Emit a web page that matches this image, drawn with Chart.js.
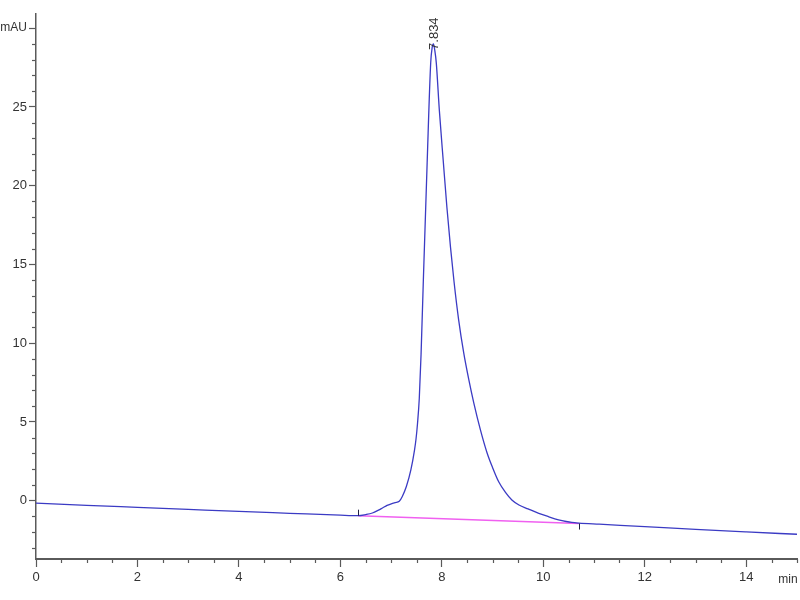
<!DOCTYPE html>
<html>
<head>
<meta charset="utf-8">
<script src="https://cdn.jsdelivr.net/npm/chart.js@4.4.0/dist/chart.umd.min.js"></script>
<style>
  html, body { margin: 0; padding: 0; background: #ffffff; }
  #wrap { width: 800px; height: 600px; position: relative; }
</style>
</head>
<body>
<div id="wrap"><canvas id="c" width="800" height="600"></canvas></div>
<script>
// ---- Data ----
const times = [0, 1, 2, 3, 4, 5, 6, 6.35, 6.5, 6.63, 6.75, 6.83, 6.92, 6.99, 7.08, 7.16, 7.22, 7.30, 7.39, 7.46, 7.49, 7.52, 7.555, 7.59, 7.635, 7.71, 7.78, 7.81, 7.834, 7.86, 7.89, 7.95, 8.03, 8.10, 8.17, 8.24, 8.33, 8.43, 8.53, 8.63, 8.76, 8.89, 9.0, 9.12, 9.25, 9.38, 9.52, 9.7, 9.91, 10.1, 10.3, 10.45, 10.56, 10.7, 11.1, 12, 13, 14, 15];
const signal = [-0.15, -0.29, -0.42, -0.55, -0.68, -0.80, -0.92, -0.95, -0.88, -0.78, -0.60, -0.46, -0.30, -0.21, -0.12, -0.04, 0.27, 0.9, 1.97, 3.2, 3.9, 4.9, 6.5, 9.3, 14.0, 21.46, 27.8, 28.8, 29.0, 28.6, 27.8, 24.8, 21.46, 18.6, 16.1, 13.9, 11.5, 9.4, 7.7, 6.2, 4.5, 3.05, 2.1, 1.2, 0.55, 0.05, -0.27, -0.52, -0.80, -1.01, -1.21, -1.32, -1.38, -1.42, -1.49, -1.64, -1.82, -1.98, -2.13];
const baseTimes = [6.35, 10.7];
const baseValues = [-0.95, -1.45];
const peakTime = 7.834;
const peakValue = 29.0;
const peakLabel = '7.834';
const xTickValues = [0, 2, 4, 6, 8, 10, 12, 14];
const yTickValues = [0, 5, 10, 15, 20, 25, 30];
const yUnitLabel = 'mAU';
const xUnitLabel = 'min';

const FONT = "'Liberation Sans', Arial, sans-serif";
const AXIS_COLOR = '#5a5a5a';
const TEXT_COLOR = '#333333';

const mainData = times.map((t, i) => ({ x: t, y: signal[i] }));
const baseData = baseTimes.map((t, i) => ({ x: t, y: baseValues[i] }));

const extras = {
  id: 'extras',
  afterDraw(chart) {
    const ctx = chart.ctx;
    const xs = chart.scales.x, ys = chart.scales.y;
    ctx.save();
    ctx.strokeStyle = AXIS_COLOR;
    ctx.lineWidth = 1.2;
    // minor x ticks every 0.5
    for (let v = 0; v <= 15.001; v += 0.5) {
      if (Math.abs(v / 2 - Math.round(v / 2)) < 1e-6) continue;
      const px = Math.round(xs.getPixelForValue(v)) + 0.5;
      ctx.beginPath();
      ctx.moveTo(px, xs.top);
      ctx.lineTo(px, xs.top + 4);
      ctx.stroke();
    }
    // minor y ticks every 1
    for (let v = -3; v <= 30; v += 1) {
      if (v % 5 === 0) continue;
      const py = Math.round(ys.getPixelForValue(v)) + 0.5;
      ctx.beginPath();
      ctx.moveTo(ys.right - 4, py);
      ctx.lineTo(ys.right, py);
      ctx.stroke();
    }
    // baseline start / end markers
    ctx.strokeStyle = '#222244';
    ctx.lineWidth = 1;
    const sx = Math.round(xs.getPixelForValue(baseTimes[0])) + 0.5;
    const sy = ys.getPixelForValue(baseValues[0]);
    ctx.beginPath(); ctx.moveTo(sx, sy - 6); ctx.lineTo(sx, sy); ctx.stroke();
    const ex = Math.round(xs.getPixelForValue(baseTimes[1])) + 0.5;
    const ey = ys.getPixelForValue(baseValues[1]);
    ctx.beginPath(); ctx.moveTo(ex, ey); ctx.lineTo(ex, ey + 6); ctx.stroke();
    // unit label on x axis
    ctx.fillStyle = TEXT_COLOR;
    ctx.font = '12px ' + FONT;
    ctx.textAlign = 'center';
    ctx.textBaseline = 'middle';
    ctx.fillText(xUnitLabel, xs.right - 9, xs.top + 21);
    // peak label, rotated
    const lx = xs.getPixelForValue(peakTime) + 1;
    const ly = ys.getPixelForValue(peakValue) + 6;
    ctx.translate(lx, ly);
    ctx.rotate(-Math.PI / 2);
    ctx.textAlign = 'left';
    ctx.textBaseline = 'middle';
    ctx.font = '13px ' + FONT;
    ctx.fillText(peakLabel, 0, 0);
    ctx.restore();
  }
};

new Chart(document.getElementById('c'), {
  type: 'line',
  data: {
    datasets: [
      {
        data: mainData,
        borderColor: '#3b3bc4',
        borderWidth: 1.3,
        pointRadius: 0,
        fill: false,
        cubicInterpolationMode: 'monotone'
      },
      {
        data: baseData,
        borderColor: '#f060f0',
        borderWidth: 1.6,
        pointRadius: 0,
        fill: false,
        tension: 0
      }
    ]
  },
  options: {
    responsive: false,
    animation: false,
    events: [],
    layout: { padding: { top: 14, right: 3, left: 0, bottom: 0 } },
    plugins: { legend: { display: false }, tooltip: { enabled: false } },
    scales: {
      x: {
        type: 'linear',
        min: 0,
        max: 15,
        afterFit(scale) { scale.height = 41; },
        afterBuildTicks(scale) { scale.ticks = xTickValues.map(v => ({ value: v })); },
        grid: {
          drawOnChartArea: false,
          drawTicks: true,
          tickLength: 8,
          tickColor: AXIS_COLOR,
          tickWidth: 1.2
        },
        border: { display: true, color: AXIS_COLOR, width: 2 },
        ticks: {
          autoSkip: false,
          maxRotation: 0,
          padding: 3,
          color: TEXT_COLOR,
          font: { family: FONT, size: 13 },
          callback: (v) => String(v)
        }
      },
      y: {
        type: 'linear',
        min: -3.7,
        max: 30.9,
        afterFit(scale) { scale.width = 36; },
        afterBuildTicks(scale) { scale.ticks = yTickValues.map(v => ({ value: v })); },
        grid: {
          drawOnChartArea: false,
          drawTicks: true,
          tickLength: 7,
          tickColor: AXIS_COLOR,
          tickWidth: 1.2
        },
        border: { display: true, color: AXIS_COLOR, width: 1.5 },
        ticks: {
          autoSkip: false,
          padding: 2,
          color: TEXT_COLOR,
          font: (ctx) => ({ family: FONT, size: (ctx.tick && ctx.tick.value === 30) ? 12 : 13 }),
          callback: (v) => (v === 30 ? yUnitLabel : String(v))
        }
      }
    }
  },
  plugins: [extras]
});
</script>
</body>
</html>
